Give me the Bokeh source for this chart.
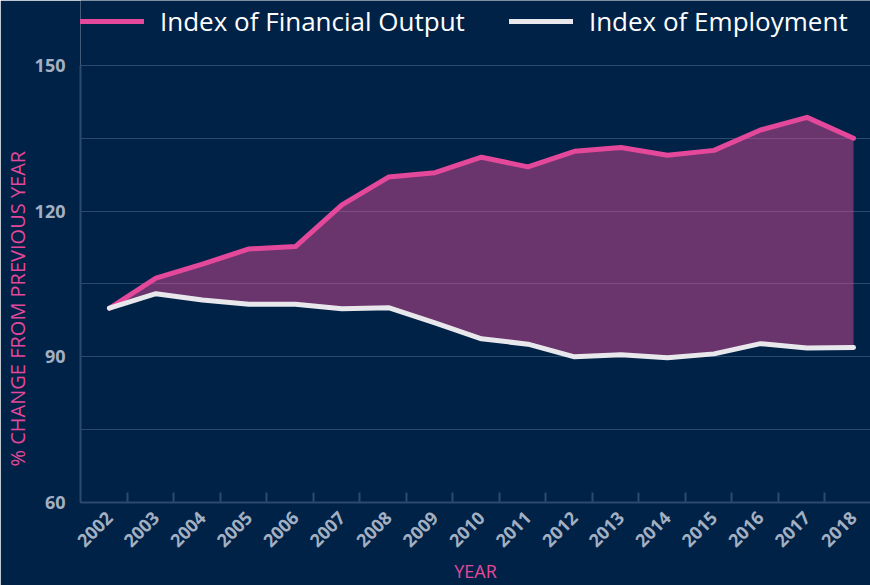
import math
from bokeh.plotting import figure
from bokeh.models import (Range1d, LinearAxis, FixedTicker, Legend, LegendItem,
                          ColumnDataSource)
from bokeh.embed import file_html
from bokeh.resources import INLINE

years = list(range(2002, 2019))
financial_output = [100, 106.2, 109.1, 112.2, 112.7, 121.3, 127.0, 127.9, 131.1, 129.1,
                    132.3, 133.1, 131.5, 132.5, 136.7, 139.3, 135.0]
employment = [100, 103.0, 101.7, 100.8, 100.8, 99.9, 100.1, 97.0, 93.7, 92.6,
              90.0, 90.4, 89.8, 90.6, 92.7, 91.8, 91.9]
y_major = [60, 90, 120, 150]
y_minor = [75, 105, 135]

BG = "#002247"
GRID = "#2c4a6d"
PINK = "#e4489a"
WHITE = "#e8e8ec"
TICK = "#a3b0c1"
FONT = "Open Sans"

src = ColumnDataSource(dict(year=years, fin=financial_output, emp=employment))

# frame spans the full height; the top strip (above 150) holds the legend
p = figure(width=870, height=585, output_backend="svg", toolbar_location=None,
           x_range=Range1d(2001.378, 2018.365), y_range=Range1d(60, 163.36),
           x_axis_location=None, y_axis_location=None,
           min_border_left=78, min_border_right=0, min_border_top=0, min_border_bottom=82)
p.background_fill_color = BG
p.border_fill_color = BG
p.outline_line_color = None

# y axis
yticker = FixedTicker(ticks=y_major, minor_ticks=y_minor)
yax = LinearAxis(ticker=yticker, bounds=(60, 150))
yax.axis_line_color = GRID
yax.axis_line_width = 2
yax.major_tick_line_color = None
yax.minor_tick_line_color = None
yax.major_label_text_color = TICK
yax.major_label_text_font = FONT
yax.major_label_text_font_style = "bold"
yax.major_label_text_font_size = "18px"
yax.major_label_standoff = 9
yax.axis_label = "% CHANGE FROM PREVIOUS YEAR" + "\u00a0" * 22
yax.axis_label_text_color = PINK
yax.axis_label_text_font = FONT
yax.axis_label_text_font_style = "normal"
yax.axis_label_text_font_size = "20px"
yax.axis_label_standoff = 1
p.add_layout(yax, "left")

# x axis: tick marks (between categories)
tick_pos = [y + 0.386 for y in years[:-1]]
xa = LinearAxis(ticker=FixedTicker(ticks=tick_pos),
                major_label_overrides={t: "" for t in tick_pos})
xa.axis_line_color = GRID
xa.axis_line_width = 2
xa.major_tick_line_color = GRID
xa.major_tick_line_width = 2
xa.major_tick_in = 10
xa.major_tick_out = 0
xa.minor_tick_line_color = None
xa.major_label_text_font_size = "2px"
xa.major_label_standoff = 0
p.add_layout(xa, "below")

# x axis: year labels
xb = LinearAxis(ticker=FixedTicker(ticks=years),
                major_label_overrides={y: str(y) for y in years})
xb.axis_line_color = None
xb.major_tick_line_color = None
xb.minor_tick_line_color = None
xb.major_label_orientation = math.pi / 4
xb.major_label_text_color = TICK
xb.major_label_text_font = FONT
xb.major_label_text_font_style = "bold"
xb.major_label_text_font_size = "18px"
xb.major_label_standoff = 6
xb.axis_label = "YEAR"
xb.axis_label_text_color = PINK
xb.axis_label_text_font = FONT
xb.axis_label_text_font_style = "normal"
xb.axis_label_text_font_size = "18px"
xb.axis_label_standoff = 3
p.add_layout(xb, "below")

p.ygrid.ticker = yticker
p.ygrid.grid_line_color = GRID
p.ygrid.grid_line_width = 1
p.ygrid.minor_grid_line_color = GRID
p.ygrid.minor_grid_line_width = 1
p.ygrid.bounds = (60, 150)
p.xgrid.visible = False

p.varea(x="year", y1="emp", y2="fin", source=src, fill_color=PINK, fill_alpha=0.465)
r_fin = p.line("year", "fin", source=src, line_color=PINK, line_width=5, line_join="round", line_cap="round")
r_emp = p.line("year", "emp", source=src, line_color=WHITE, line_width=5, line_join="round", line_cap="round")

legend = Legend(items=[LegendItem(label="Index of Financial Output", renderers=[r_fin]),
                       LegendItem(label="Index of Employment", renderers=[r_emp])],
                orientation="horizontal", location=(0, 463))
legend.background_fill_alpha = 0
legend.border_line_color = None
legend.label_text_color = "white"
legend.label_text_font = FONT
legend.label_text_font_size = "26px"
legend.glyph_width = 64
legend.glyph_height = 28
legend.label_standoff = 16
legend.spacing = 44
legend.padding = 0
legend.margin = 0
p.add_layout(legend, "center")

open("out.html", "w").write(file_html(p, INLINE))
